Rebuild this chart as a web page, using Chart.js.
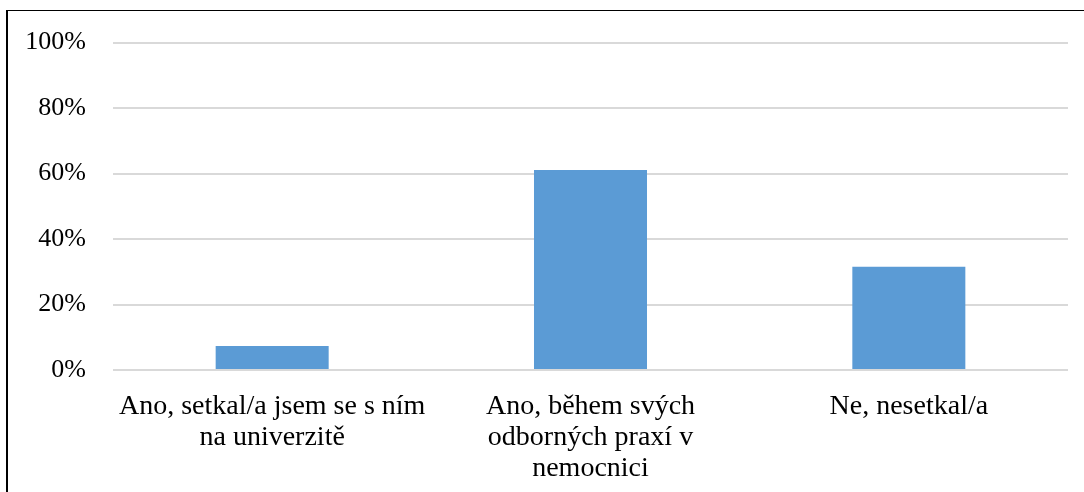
<!DOCTYPE html>
<html>
<head>
<meta charset="utf-8">
<script src="https://cdn.jsdelivr.net/npm/chart.js@4/dist/chart.umd.min.js"></script>
<style>
  html, body { margin: 0; padding: 0; background: #fff; overflow: hidden; }
  #wrap { position: absolute; left: 0; top: 0; width: 1084px; height: 492px; }
  #frame { position: absolute; left: 6px; top: 10px; width: 2000px; height: 2000px;
           border-left: 2px solid #000; border-top: 1.5px solid #000; pointer-events: none; }
</style>
</head>
<body>
<div id="wrap"><canvas id="c" width="1084" height="492"></canvas></div>
<div id="frame"></div>
<script>
const categories = [
  ["Ano, setkal/a jsem se s ním", "na univerzitě"],
  ["Ano, během svých", "odborných praxí v", "nemocnici"],
  "Ne, nesetkal/a"
];
const values = [7.3, 61.1, 31.5];
const yTicks = [0, 20, 40, 60, 80, 100];

const FONT = "'Liberation Serif', 'Times New Roman', serif";

new Chart(document.getElementById('c'), {
  type: 'bar',
  data: {
    labels: categories,
    datasets: [{
      data: values,
      backgroundColor: '#5B9BD5',
      borderWidth: 0,
      categoryPercentage: 1,
      barPercentage: 0.355
    }]
  },
  options: {
    responsive: false,
    animation: false,
    layout: { padding: { top: 39, right: 16, bottom: 0, left: 0 } },
    plugins: { legend: { display: false }, tooltip: { enabled: false } },
    scales: {
      x: {
        grid: { display: false, drawTicks: false },
        border: { display: false },
        ticks: {
          color: '#000',
          font: { family: FONT, size: 28, lineHeight: 1.115 },
          padding: 21,
          maxRotation: 0,
          autoSkip: false
        },
        afterFit: (s) => { s.height = 122; }
      },
      y: {
        min: 0,
        max: 100,
        afterBuildTicks: (s) => { s.ticks = yTicks.map(v => ({ value: v })); },
        grid: { color: '#d9d9d9', lineWidth: 2, drawTicks: false },
        border: { display: false },
        ticks: {
          color: '#000',
          font: { family: FONT, size: 26 },
          padding: 27,
          callback: (v) => v + '%'
        },
        afterFit: (s) => { s.width = 113; }
      }
    }
  }
});
</script>
</body>
</html>
